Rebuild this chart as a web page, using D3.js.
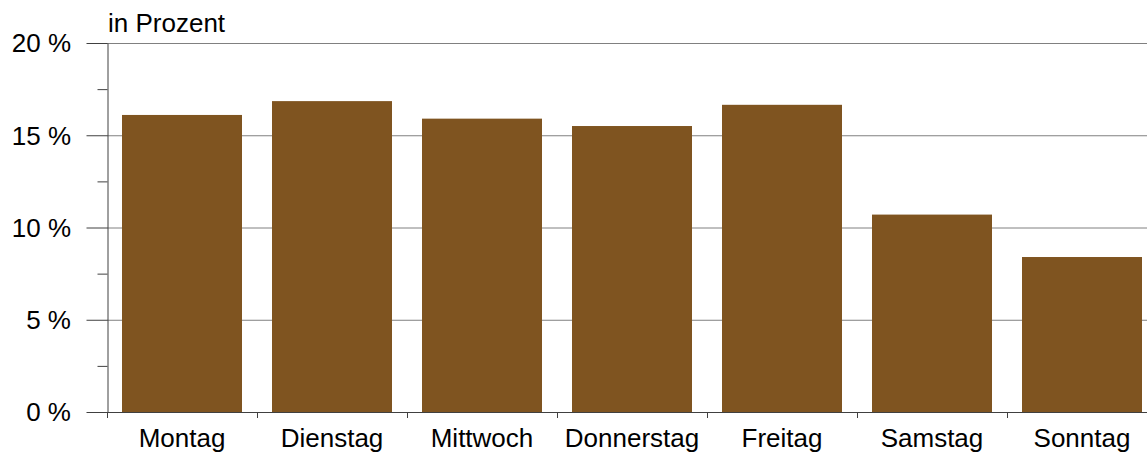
<!DOCTYPE html>
<html><head><meta charset="utf-8">
<script src="https://cdn.jsdelivr.net/npm/d3@7"></script>
<style>body{margin:0;background:#fff}svg{display:block;font-family:"Liberation Sans",Arial,sans-serif}</style>
</head><body><svg id="c" width="1147" height="454"></svg>
<script>
const categories = ["Montag","Dienstag","Mittwoch","Donnerstag","Freitag","Samstag","Sonntag"];
const values = [16.1, 16.85, 15.9, 15.5, 16.65, 10.7, 8.4];
const yTicks = [0, 5, 10, 15, 20];
const yTickLabels = ["0 %","5 %","10 %","15 %","20 %"];
const unitLabel = "in Prozent";

const svg = d3.select("#c");
const x0 = 107, x1 = 1157, yTop = 43, yBot = 412;
const x = d3.scaleBand().domain(categories).range([x0, x1]).paddingInner(0.2).paddingOuter(0.1);
const y = d3.scaleLinear().domain([0, 20]).range([yBot, yTop]);

// gridlines
svg.append("g").selectAll("line").data(yTicks.filter(d => d > 0)).join("line")
  .attr("x1", x0).attr("x2", 1147).attr("y1", d => y(d)+0.5).attr("y2", d => y(d)+0.5)
  .attr("stroke", "#808080").attr("stroke-width", 1);

// bars
svg.append("g").selectAll("rect").data(values).join("rect")
  .attr("x", (d,i) => x(categories[i])).attr("width", x.bandwidth())
  .attr("y", d => y(d)).attr("height", d => y(0) - y(d))
  .attr("fill", "#7F5420");

// y axis
const yAxis = d3.axisLeft(y).tickValues(d3.range(0, 20.1, 2.5)).tickFormat(() => "")
  .tickSizeInner(10).tickSizeOuter(0);
const gy = svg.append("g").attr("transform", `translate(${x0+0.5},0)`).call(yAxis);
gy.select(".domain").attr("stroke", "#404040");
gy.selectAll(".tick line").attr("stroke", "#404040")
  .attr("x2", d => d % 5 === 0 ? -21 : -10);
gy.selectAll(".tick").attr("transform", d => `translate(0,${y(d)+0.5})`);

svg.append("g").selectAll("text").data(yTicks).join("text")
  .attr("x", 71).attr("y", d => y(d)).attr("dy", "0.36em").attr("text-anchor", "end")
  .attr("font-size", 26).attr("fill", "#000").text((d,i) => yTickLabels[i]);

// x axis
const step = x.step();
svg.append("line").attr("x1", x0).attr("x2", 1147).attr("y1", yBot+0.5).attr("y2", yBot+0.5)
  .attr("stroke", "#404040");
svg.append("g").selectAll("line").data(d3.range(categories.length)).join("line")
  .attr("x1", i => x0 + i*step + 0.5).attr("x2", i => x0 + i*step + 0.5)
  .attr("y1", yBot).attr("y2", yBot + 6).attr("stroke", "#404040");
svg.append("g").selectAll("text").data(categories).join("text")
  .attr("x", d => x(d) + x.bandwidth()/2).attr("y", 447).attr("text-anchor", "middle")
  .attr("font-size", 26).attr("fill", "#000").text(d => d);

svg.append("text").attr("x", 108).attr("y", 32).attr("font-size", 26).attr("fill", "#000").text(unitLabel);
</script></body></html>
